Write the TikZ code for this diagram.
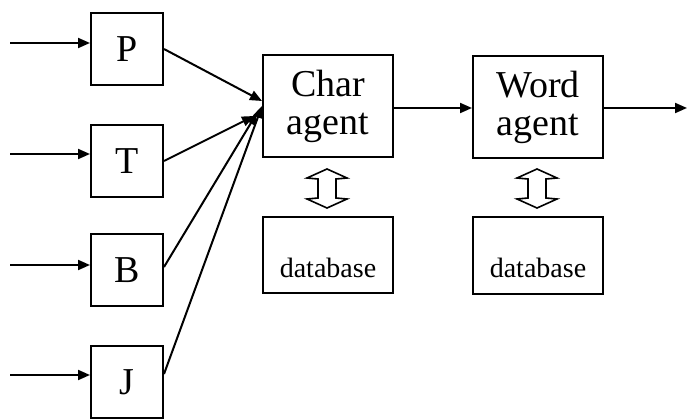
\documentclass[tikz,border=0pt]{standalone}
\usepackage{fontspec}
\setmainfont{Liberation Serif}
\usetikzlibrary{arrows.meta}
\begin{document}
\begin{tikzpicture}[x=1pt,y=-1pt,
  box/.style={draw,line width=2pt,inner sep=0pt,align=center},
  small/.style={box,minimum width=72pt,minimum height=72pt,font=\fontsize{38}{38}\selectfont},
  agent/.style={box,minimum width=130pt,minimum height=102pt,font=\fontsize{38}{38}\selectfont},
  dbase/.style={draw,line width=2pt,inner sep=0pt,minimum width=130pt,minimum height=76pt,
    text height=44pt,text depth=0pt,font=\fontsize{28}{30}\selectfont},
  conn/.style={line width=2pt,-{Triangle[length=12pt,width=10pt]}},
  dbl/.style={draw,line width=1.6pt,fill=white,line join=miter}]
\useasboundingbox (0,0) rectangle (687,419);

% input stations
\node[small] (P) at (127,49) {P};
\node[small] (T) at (127,161) {T};
\node[small] (B) at (127,270) {B};
\node[small] (J) at (127,382) {J};

% agents and their databases
\node[agent] (char) at (328,106) {Char\\agent};
\node[agent] (word) at (538,107.5) {Word\\agent};
\node[dbase] (db1) at (328,255) {database};
\node[dbase] (db2) at (538,255.5) {database};

% free ends of the inputs and the output
\coordinate (inP) at (10,43);
\coordinate (inT) at (10,154);
\coordinate (inB) at (10,265);
\coordinate (inJ) at (10,375);
\coordinate (out) at (687,108);

% points where the station links reach the char agent
\coordinate (hP) at (262,101);
\coordinate (hT) at (254,116);
\coordinate (hB) at (257,113);
\coordinate (hJ) at (262,106);

\draw[conn] (inP) -- (P.west |- inP);
\draw[conn] (inT) -- (T.west |- inT);
\draw[conn] (inB) -- (B.west |- inB);
\draw[conn] (inJ) -- (J.west |- inJ);

\draw[conn] (P.east) -- (hP);
\draw[conn] (T.east) -- (hT);
\draw[conn] ([yshift=3pt]B.east) -- (hB);
\draw[conn] ([yshift=8pt]J.east) -- (hJ);

\draw[conn] (char.east |- 0,108) -- (word.west |- 0,108);
\draw[conn] (word.east |- out) -- (out);

% hollow two-way arrows between agent and database
\foreach \cx in {327,537}{
  \draw[dbl] (\cx,169) -- (\cx+20,178) -- (\cx+9,179) -- (\cx+9,198)
    -- (\cx+20,199) -- (\cx,208) -- (\cx-20,199) -- (\cx-9,198)
    -- (\cx-9,179) -- (\cx-20,178) -- cycle;
}
\end{tikzpicture}
\end{document}
